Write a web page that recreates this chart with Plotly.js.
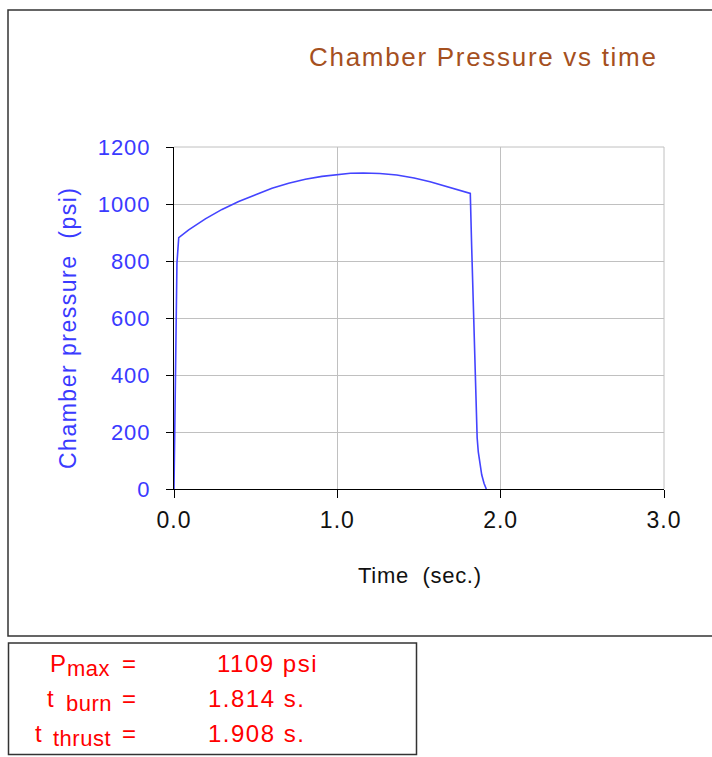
<!DOCTYPE html>
<html>
<head>
<meta charset="utf-8">
<script src="https://cdn.plot.ly/plotly-3.0.1.min.js"></script>
<style>
  html, body { margin: 0; padding: 0; background: #fff; }
  #chart { width: 712px; height: 757px; }
  .xtick text, .ytick text { letter-spacing: 1px; }
</style>
</head>
<body>
<div id="chart"></div>
<script>
// ---- data ----
const timeSec = [0, 0.01, 0.018, 0.029, 0.09, 0.192, 0.294, 0.396, 0.498, 0.6, 0.702, 0.804, 0.906, 1.008, 1.08, 1.159, 1.26, 1.364, 1.47, 1.568, 1.67, 1.74, 1.814,
                 1.822, 1.830, 1.838, 1.845, 1.850, 1.856, 1.863, 1.872, 1.884, 1.898, 1.912];
const pressurePsi = [0, 440, 792, 882, 909, 948, 981, 1009, 1033, 1055, 1073, 1087, 1097, 1104, 1108, 1109, 1107, 1102, 1091, 1078, 1061, 1050, 1037,
                     860, 680, 500, 340, 250, 180, 130, 88, 50, 20, 0];
const xTickVals = [0, 1, 2, 3];
const xTickText = ['0.0', '1.0', '2.0', '3.0'];
const yTickVals = [0, 200, 400, 600, 800, 1000, 1200];
const summaryLabels = [['P', 'max'], ['t', 'burn'], ['t', 'thrust']];
const summaryValues = ['1109 psi', '1.814 s.', '1.908 s.'];

// ---- layout geometry (pixels) ----
const W = 712, H = 757;
const L = 174, R = 664, T = 147, B = 489;
const px = x => (x - L) / (R - L);
const py = y => (B - y) / (B - T);
const ls = (s, v) => '<span style="letter-spacing:' + v + 'px">' + s + '</span>';

const FONT = 'Liberation Sans, Arial, sans-serif';
const RED = '#ff0000';
const BLUE = '#3a3aff';

const annotations = [
  { text: ls('Chamber Pressure vs time', 1.7), x: px(483), y: py(57), xref: 'paper', yref: 'paper',
    xanchor: 'center', yanchor: 'middle', showarrow: false,
    font: { family: FONT, size: 26, color: '#a5501e' } },
  { text: ls('Time  (sec.)', 0.7), x: px(420), y: py(575), xref: 'paper', yref: 'paper',
    xanchor: 'center', yanchor: 'middle', showarrow: false,
    font: { family: FONT, size: 22, color: '#111' } },
  { text: ls('Chamber pressure  (psi)', 1.5), x: px(68), y: py(328), xref: 'paper', yref: 'paper',
    xanchor: 'center', yanchor: 'middle', showarrow: false, textangle: -90,
    font: { family: FONT, size: 23, color: BLUE } }
];

const rowY = [663, 698, 733];
const mainRight = [68, 56, 44];
const subLeft = [65, 64, 51];
summaryLabels.forEach((lab, i) => {
  annotations.push({ text: lab[0], x: px(mainRight[i]), y: py(rowY[i]), xref: 'paper', yref: 'paper',
    xanchor: 'right', yanchor: 'middle', showarrow: false,
    font: { family: FONT, size: 24, color: RED } });
  annotations.push({ text: ls(lab[1], 0.5), x: px(subLeft[i]), y: py(rowY[i] + 5), xref: 'paper', yref: 'paper',
    xanchor: 'left', yanchor: 'middle', showarrow: false,
    font: { family: FONT, size: 22, color: RED } });
  annotations.push({ text: '=', x: px(120), y: py(rowY[i]), xref: 'paper', yref: 'paper',
    xanchor: 'left', yanchor: 'middle', showarrow: false,
    font: { family: FONT, size: 24, color: RED } });
  annotations.push({ text: ls(summaryValues[i], 1.5), x: px(i === 0 ? 215 : 206), y: py(rowY[i]), xref: 'paper', yref: 'paper',
    xanchor: 'left', yanchor: 'middle', showarrow: false,
    font: { family: FONT, size: 24, color: RED } });
});

const shapes = [
  { type: 'rect', xref: 'paper', yref: 'paper', x0: px(8), x1: px(716), y0: py(10), y1: py(636),
    line: { color: '#333', width: 1.5 }, fillcolor: 'rgba(0,0,0,0)', layer: 'below' },
  { type: 'rect', xref: 'paper', yref: 'paper', x0: px(8.5), x1: px(416.5), y0: py(643), y1: py(754.5),
    line: { color: '#333', width: 1.5 }, fillcolor: 'rgba(0,0,0,0)', layer: 'below' },
  { type: 'line', xref: 'paper', yref: 'paper', x0: 0, x1: 1, y0: 1, y1: 1,
    line: { color: '#c0c0c0', width: 1 }, layer: 'below' },
  { type: 'line', xref: 'paper', yref: 'paper', x0: 1, x1: 1, y0: 0, y1: 1,
    line: { color: '#c0c0c0', width: 1 }, layer: 'below' }
];

const trace = {
  x: timeSec, y: pressurePsi, type: 'scatter', mode: 'lines',
  line: { color: '#4444ff', width: 1.6 }, hoverinfo: 'skip'
};

const layout = {
  width: W, height: H,
  margin: { l: L, r: W - R, t: T, b: H - B, pad: 0 },
  paper_bgcolor: '#fff', plot_bgcolor: '#fff',
  showlegend: false,
  xaxis: {
    range: [0, 3], tickvals: xTickVals, ticktext: xTickText,
    showgrid: true, gridcolor: '#c0c0c0', gridwidth: 1,
    showline: true, linecolor: '#000', linewidth: 1,
    ticks: 'outside', ticklen: 8, tickcolor: '#000', tickwidth: 1,
    ticklabelstandoff: 2,
    zeroline: false, fixedrange: true,
    tickfont: { family: FONT, size: 23, color: '#111' }
  },
  yaxis: {
    range: [0, 1200], tickvals: yTickVals,
    showgrid: true, gridcolor: '#c0c0c0', gridwidth: 1,
    showline: true, linecolor: '#000', linewidth: 1,
    ticks: 'outside', ticklen: 7, tickcolor: '#000', tickwidth: 1,
    ticklabelstandoff: 11,
    zeroline: false, fixedrange: true,
    tickfont: { family: FONT, size: 22, color: BLUE }
  },
  annotations: annotations,
  shapes: shapes
};

Plotly.newPlot('chart', [trace], layout, { displayModeBar: false, staticPlot: true });
</script>
</body>
</html>
